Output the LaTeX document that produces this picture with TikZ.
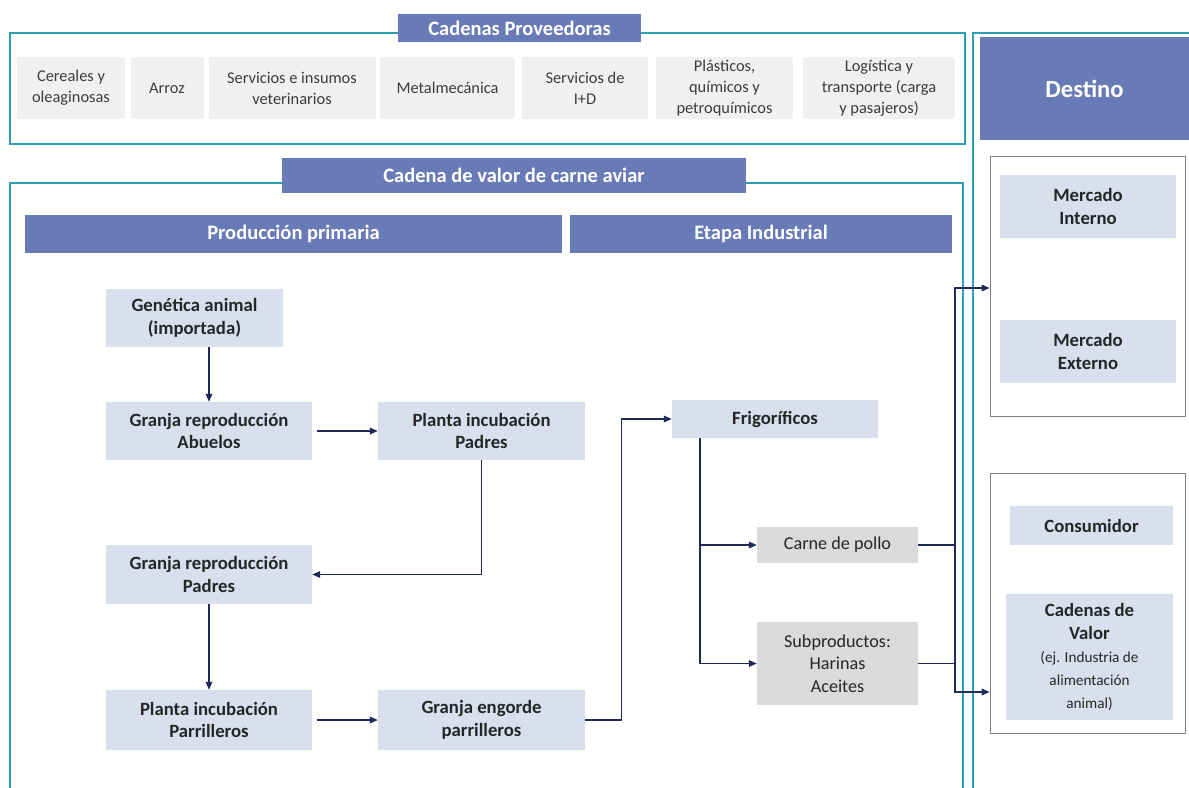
\documentclass[tikz,border=0pt]{standalone}
\usepackage{fontspec}
\setmainfont{Carlito}
\usetikzlibrary{arrows.meta}

\definecolor{cabecera}{RGB}{104,123,182}
\definecolor{celeste}{RGB}{218,223,238}
\definecolor{grisprod}{RGB}{218,218,218}
\definecolor{grisprov}{RGB}{240,240,240}
\definecolor{turquesa}{RGB}{45,158,178}
\definecolor{azul}{RGB}{30,42,88}
\definecolor{borde}{RGB}{128,128,128}
\definecolor{texto}{RGB}{38,38,38}
\newcommand{\ejemplo}[1]{{\normalfont\fontsize{13}{17}\selectfont #1}}

\begin{document}
\begin{tikzpicture}[x=0.3mm, y=-0.3mm,
    caja/.style 2 args={inner sep=0pt, align=center, minimum width=#1*0.3mm, minimum height=#2*0.3mm},
    cab/.style={fill=cabecera, text=white, font=\bfseries\fontsize{17.5}{21}\selectfont},
    prov/.style={fill=grisprov, text=texto!90, font=\fontsize{14}{18}\selectfont},
    paso/.style={fill=celeste, text=texto, font=\bfseries\fontsize{16}{19.5}\selectfont},
    prod/.style={fill=grisprod, text=texto, font=\fontsize{15.5}{19}\selectfont},
    marco/.style={draw=turquesa, line width=0.9pt},
    interior/.style={draw=borde, line width=0.7pt},
    linea/.style={draw=azul, line width=1pt},
    flecha/.style={linea, -{Triangle[length=2.4mm, width=2mm]}}]
    \useasboundingbox (0,0) rectangle (1189,787);

    % marcos
    \draw[marco] (10,33) rectangle (965,144);
    \draw[marco] (10,183) rectangle (963,820);
    \draw[marco] (973,33) rectangle (1200,820);

    % cabeceras
    \node[cab, caja={243}{28}] (hprov) at (519.5,28) {Cadenas Proveedoras};
    \node[cab, caja={464}{35}] (hcad) at (514,175.5) {Cadena de valor de carne aviar};
    \node[cab, caja={537}{38}] (hpri) at (293.5,234) {Producción primaria};
    \node[cab, caja={382}{38}] (hind) at (761,234) {Etapa Industrial};
    \node[cab, caja={209}{103}, font=\bfseries\fontsize{21}{25}\selectfont] (hdes) at (1084.5,88.5) {Destino};

    % cadenas proveedoras
    \node[prov, caja={108}{62}] (cer) at (71,88) {Cereales y\\oleaginosas};
    \node[prov, caja={73}{62}] (arr) at (167,88) {Arroz};
    \node[prov, caja={167}{62}] (vet) at (292,88) {Servicios e insumos\\veterinarios};
    \node[prov, caja={135}{62}] (met) at (447.5,88) {Metalmecánica};
    \node[prov, caja={126}{62}] (imd) at (585,88) {Servicios de\\I+D};
    \node[prov, caja={137}{62}] (pla) at (724.5,88) {Plásticos,\\químicos y\\petroquímicos};
    \node[prov, caja={152}{62}] (log) at (879,88) {Logística y\\transporte (carga\\y pasajeros)};

    % produccion primaria
    \node[paso, caja={177}{58}] (gen) at (194.5,318) {Genética animal\\(importada)};
    \node[paso, caja={206}{58}] (abu) at (209,431) {Granja reproducción\\Abuelos};
    \node[paso, caja={207}{58}] (pinc) at (481.5,431) {Planta incubación\\Padres};
    \node[paso, caja={206}{59}] (gpad) at (209,574.5) {Granja reproducción\\Padres};
    \node[paso, caja={206}{60}] (ppar) at (209,720) {Planta incubación\\Parrilleros};
    \node[paso, caja={207}{60}] (geng) at (481.5,720) {Granja engorde\\parrilleros};

    % etapa industrial
    \node[paso, caja={206}{38}] (frig) at (775,419) {Frigoríficos};
    \node[prod, caja={161}{36}] (carne) at (837.5,545) {Carne de pollo};
    \node[prod, caja={161}{83}] (subp) at (837.5,663.5) {Subproductos:\\Harinas\\Aceites};
    \coordinate (rama) at (700,438);
    \coordinate (sube) at (955,288);
    \coordinate (baja) at (955,692);

    % destino
    \node[interior, caja={195}{260}] (dest1) at (1087.5,286) {};
    \node[interior, caja={195}{260}] (dest2) at (1087.5,603) {};
    \node[paso, caja={176}{63}] (mint) at (1088,206.5) {Mercado\\Interno};
    \node[paso, caja={176}{63}] (mext) at (1088,351.5) {Mercado\\Externo};
    \node[paso, caja={163}{39}] (cons) at (1091.5,525.5) {Consumidor};
    \node[paso, caja={167}{126}] (cval) at (1089.5,657) {Cadenas de\\Valor\\\ejemplo{(ej. Industria de}\\\ejemplo{alimentación}\\\ejemplo{animal)}};

    % flechas
    \draw[flecha] (abu.north |- gen.south) -- (abu.north);
    \draw[flecha, shorten <=4pt] (abu.east) -- (pinc.west);
    \draw[flecha] (pinc.south) |- (gpad.east);
    \draw[flecha] (gpad.south) -- (ppar.north);
    \draw[flecha, shorten <=4pt] (ppar.east) -- (geng.west);
    \draw[flecha] (geng.east) -- ++(36,0) |- (frig.west);
    \draw[linea] (frig.south -| rama) -- (rama);
    \draw[flecha] (rama) |- (carne.west);
    \draw[flecha] (rama) |- (subp.west);
    \draw[linea] (carne.east) -- (carne.east -| sube);
    \draw[flecha] (subp.east) -| (sube) -- (sube -| dest1.west);
    \draw[flecha] (subp.east -| baja) -- (baja) -- (baja -| dest2.west);
\end{tikzpicture}
\end{document}
